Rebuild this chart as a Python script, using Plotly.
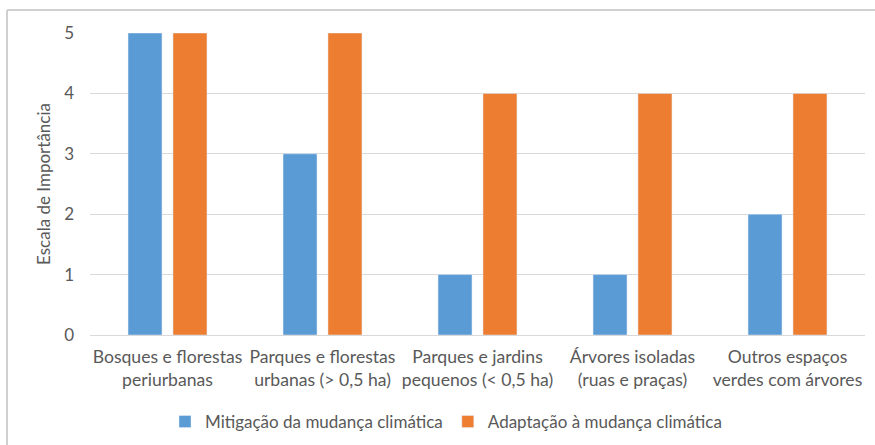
import plotly.graph_objects as go

categories = [
    "Bosques e florestas<br>periurbanas",
    "Parques e florestas<br>urbanas (> 0,5 ha)",
    "Parques e jardins<br>pequenos (< 0,5 ha)",
    "Árvores isoladas<br>(ruas e praças)",
    "Outros espaços<br>verdes com árvores",
]
mitigacao = [5, 3, 1, 1, 2]
adaptacao = [5, 5, 4, 4, 4]
y_ticks = [0, 1, 2, 3, 4, 5]

W, H = 875, 445
ml, mr, mt, mb = 90, 10, 33, 110
pw, ph = W - ml - mr, H - mt - mb

font = "Lato, Open Sans, sans-serif"
gray = "#595959"
fs = 17

fig = go.Figure()
fig.add_bar(x=categories, y=mitigacao, name="Mitigação da mudança climática",
            marker_color="#5B9BD5")
fig.add_bar(x=categories, y=adaptacao, name="Adaptação à mudança climática",
            marker_color="#ED7D31")

def px_x(x):
    return (x - ml) / pw

def px_y(y):
    return (H - mb - y) / ph

fig.update_layout(
    width=W, height=H,
    margin=dict(l=ml, r=mr, t=mt, b=mb, autoexpand=False),
    paper_bgcolor="white", plot_bgcolor="white",
    barmode="group", bargap=0.42, bargroupgap=0.244,
    font=dict(family=font, size=fs, color=gray),
    showlegend=True,
    legend=dict(orientation="h", x=px_x(446), xanchor="center", y=px_y(422), yanchor="middle",
                font=dict(size=fs, color=gray), traceorder="normal", itemwidth=30),
    xaxis=dict(showgrid=False, showline=True, linecolor="#d9d9d9", linewidth=1,
               ticks="", tickfont=dict(size=17.6, color=gray), automargin=False,
               ticklabelstandoff=6),
    yaxis=dict(range=[0, 5], tickvals=y_ticks, showgrid=True, gridcolor="#d9d9d9",
               zeroline=False, ticks="", tickfont=dict(size=fs, color=gray),
               automargin=False, ticklabelstandoff=15,
               title=dict(text="Escala de Importância", font=dict(size=fs, color=gray),
                          standoff=9)),
    shapes=[
        dict(type="line", xref="paper", yref="paper", x0=px_x(7), x1=px_x(875),
             y0=px_y(10), y1=px_y(10), line=dict(color="#d0d0d0", width=2)),
        dict(type="line", xref="paper", yref="paper", x0=px_x(7), x1=px_x(7),
             y0=px_y(10), y1=px_y(445), line=dict(color="#d0d0d0", width=2)),
    ],
)

fig.write_html("out.html", config={"displayModeBar": False},
               post_script="document.body.style.margin='0';")
